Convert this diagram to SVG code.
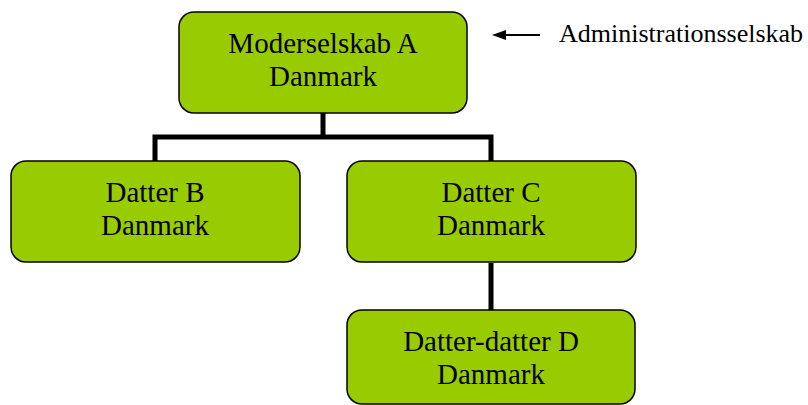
<svg xmlns="http://www.w3.org/2000/svg" width="808" height="405" viewBox="0 0 808 405">
  <style>
    .box { fill: #99CC00; stroke: #000; stroke-width: 1.5; }
    .lbl { font-family: "Liberation Serif", "Times New Roman", serif; font-size: 29px; fill: #000; text-anchor: middle; }
    .note { font-family: "Liberation Serif", "Times New Roman", serif; font-size: 26px; fill: #000; }
    .link { fill: none; stroke: #000; stroke-width: 5; stroke-linejoin: miter; stroke-linecap: butt; }
  </style>
  <rect width="808" height="405" fill="#fff"/>

  <!-- tree connectors -->
  <g id="connectors">
    <path class="link" d="M323 113 V137 M155 161 V137 H491 V161"/>
    <path class="link" d="M491 263 V310"/>
  </g>

  <g id="node-a">
    <rect class="box" x="179" y="12" width="288" height="101" rx="15"/>
    <text class="lbl" x="323" y="53">Moderselskab A</text>
    <text class="lbl" x="323" y="86">Danmark</text>
  </g>

  <g id="node-b">
    <rect class="box" x="11" y="161" width="289" height="101" rx="15"/>
    <text class="lbl" x="155" y="202">Datter B</text>
    <text class="lbl" x="155" y="235">Danmark</text>
  </g>

  <g id="node-c">
    <rect class="box" x="347" y="161" width="289" height="101" rx="15"/>
    <text class="lbl" x="491" y="202">Datter C</text>
    <text class="lbl" x="491" y="235">Danmark</text>
  </g>

  <g id="node-d">
    <rect class="box" x="347" y="310" width="288" height="94" rx="15"/>
    <text class="lbl" x="491" y="351">Datter-datter D</text>
    <text class="lbl" x="491" y="384">Danmark</text>
  </g>

  <!-- pointer to the administrating company -->
  <g id="note">
    <line x1="503" y1="35" x2="540" y2="35" stroke="#000" stroke-width="2"/>
    <polygon points="492,35 506,30 506,40" fill="#000"/>
    <text class="note" x="559" y="42">Administrationsselskab</text>
  </g>
</svg>
